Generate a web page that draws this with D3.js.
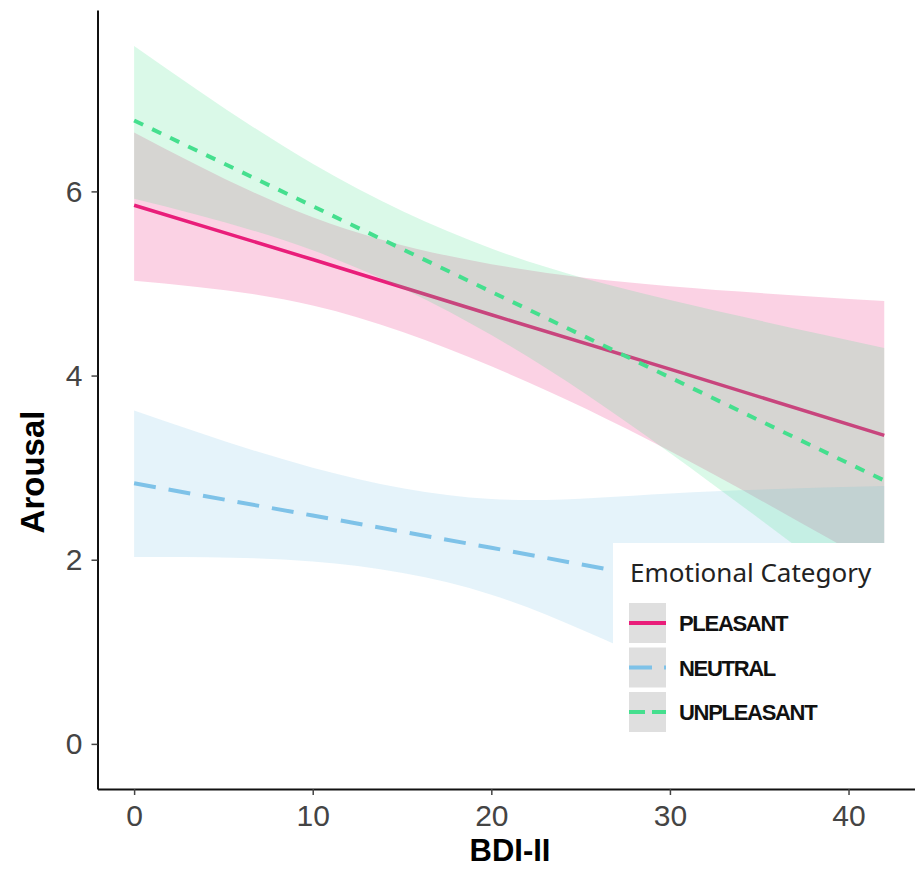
<!DOCTYPE html>
<html>
<head>
<meta charset="utf-8">
<script src="https://cdn.jsdelivr.net/npm/d3@7"></script>
<style>
  body { margin: 0; background: #fff; }
  svg { display: block; }
</style>
</head>
<body>
<svg id="chart" width="915" height="869"></svg>
<script>
// values at BDI-II = 0, 10, 20, 30, 42
const bdi = [0, 10, 20, 30, 42];

const pleasantFit = [5.85, 5.26, 4.66, 4.07, 3.35];
const pleasantLow = [5.03, 4.76, 4.10, 3.18, 1.89];
const pleasantHigh = [6.64, 5.72, 5.21, 4.97, 4.81];

const neutralFit = [2.83, 2.48, 2.13, 1.77, 1.35];
const neutralLow = [2.03, 1.98, 1.62, 0.82, -0.10];
const neutralHigh = [3.62, 3.00, 2.66, 2.72, 2.80];

const unpleasantFit = [6.77, 5.84, 4.91, 3.98, 2.86];
const unpleasantLow = [5.92, 5.36, 4.44, 3.16, 1.42];
const unpleasantHigh = [7.58, 6.30, 5.38, 4.82, 4.30];

const categories = ["PLEASANT", "NEUTRAL", "UNPLEASANT"];
const xTicks = [0, 10, 20, 30, 40];
const yTicks = [0, 2, 4, 6];

const series = [
    { name: "PLEASANT", fit: pleasantFit, low: pleasantLow, high: pleasantHigh, color: "#e91e7a", dash: null },
    { name: "NEUTRAL", fit: neutralFit, low: neutralLow, high: neutralHigh, color: "#7ec2e8", dash: "22,13" },
    { name: "UNPLEASANT", fit: unpleasantFit, low: unpleasantLow, high: unpleasantHigh, color: "#45df8e", dash: "10,10" }
];

const svg = d3.select("#chart");

const x = d3.scaleLinear().domain([-2.05, 43.75]).range([97.5, 915.5]);
const y = d3.scaleLinear().domain([-0.49, 7.97]).range([789, 10]);

const area = d3.area()
    .x(d => x(d.x))
    .y0(d => y(d.lo))
    .y1(d => y(d.hi))
    .curve(d3.curveNatural);

const line = d3.line()
    .x(d => x(d.x))
    .y(d => y(d.v));

// ribbon then line, group by group (like geom_smooth)
series.forEach(s => {
    const pts = bdi.map((b, i) => ({ x: b, lo: s.low[i], hi: s.high[i], v: s.fit[i] }));
    svg.append("path")
        .datum(pts)
        .attr("d", area)
        .attr("fill", s.color)
        .attr("fill-opacity", 0.2);
    svg.append("path")
        .datum(pts)
        .attr("d", line)
        .attr("fill", "none")
        .attr("stroke", s.color)
        .attr("stroke-width", s.dash ? 4 : 3.5)
        .attr("stroke-dasharray", s.dash);
});

// axes
const xAxis = svg.append("g")
    .attr("transform", "translate(0,789)")
    .call(d3.axisBottom(x).tickValues(xTicks).tickSize(6).tickSizeOuter(0).tickPadding(10));

const yAxis = svg.append("g")
    .attr("transform", "translate(97.5,0)")
    .call(d3.axisLeft(y).tickValues(yTicks).tickSize(6).tickSizeOuter(0).tickPadding(9));

[xAxis, yAxis].forEach(g => {
    g.select(".domain").attr("stroke", "#111").attr("stroke-width", 2);
    g.selectAll(".tick line").attr("stroke", "#444").attr("stroke-width", 1.5);
    g.selectAll(".tick text")
        .attr("fill", "#444")
        .style("font-family", "'Liberation Sans', Arial, sans-serif")
        .style("font-size", "30px");
});

svg.append("text")
    .attr("x", 510)
    .attr("y", 861)
    .attr("text-anchor", "middle")
    .style("font-family", "'Liberation Sans', Arial, sans-serif")
    .style("font-size", "31px")
    .style("font-weight", "bold")
    .text("BDI-II");

svg.append("text")
    .attr("transform", "translate(44,472) rotate(-90)")
    .attr("text-anchor", "middle")
    .style("font-family", "'Liberation Sans', Arial, sans-serif")
    .style("font-size", "33px")
    .style("font-weight", "bold")
    .text("Arousal");

// legend
const legend = svg.append("g");
legend.append("rect")
    .attr("x", 613).attr("y", 543)
    .attr("width", 272).attr("height", 214)
    .attr("fill", "#fff");

legend.append("text")
    .attr("x", 630).attr("y", 582)
    .attr("fill", "#222")
    .style("font-family", "'Noto Sans', sans-serif")
    .style("font-size", "26px")
    .text("Emotional Category");

series.forEach((s, i) => {
    const top = 603 + i * 44.5;
    legend.append("rect")
        .attr("x", 629).attr("y", top)
        .attr("width", 37).attr("height", 40)
        .attr("fill", "#dfdfdf");
    legend.append("line")
        .attr("x1", 629).attr("x2", 666)
        .attr("y1", top + 20).attr("y2", top + 20)
        .attr("stroke", s.color)
        .attr("stroke-width", 4)
        .attr("stroke-dasharray", s.dash ? (i === 1 ? "23,12" : "16,7") : null);
    legend.append("text")
        .attr("x", 679).attr("y", top + 28)
        .attr("fill", "#111")
        .style("font-family", "'Liberation Sans', Arial, sans-serif")
        .style("font-size", "22px")
        .style("font-weight", "bold")
        .style("letter-spacing", "-1.3px")
        .text(categories[i]);
});
</script>
</body>
</html>
